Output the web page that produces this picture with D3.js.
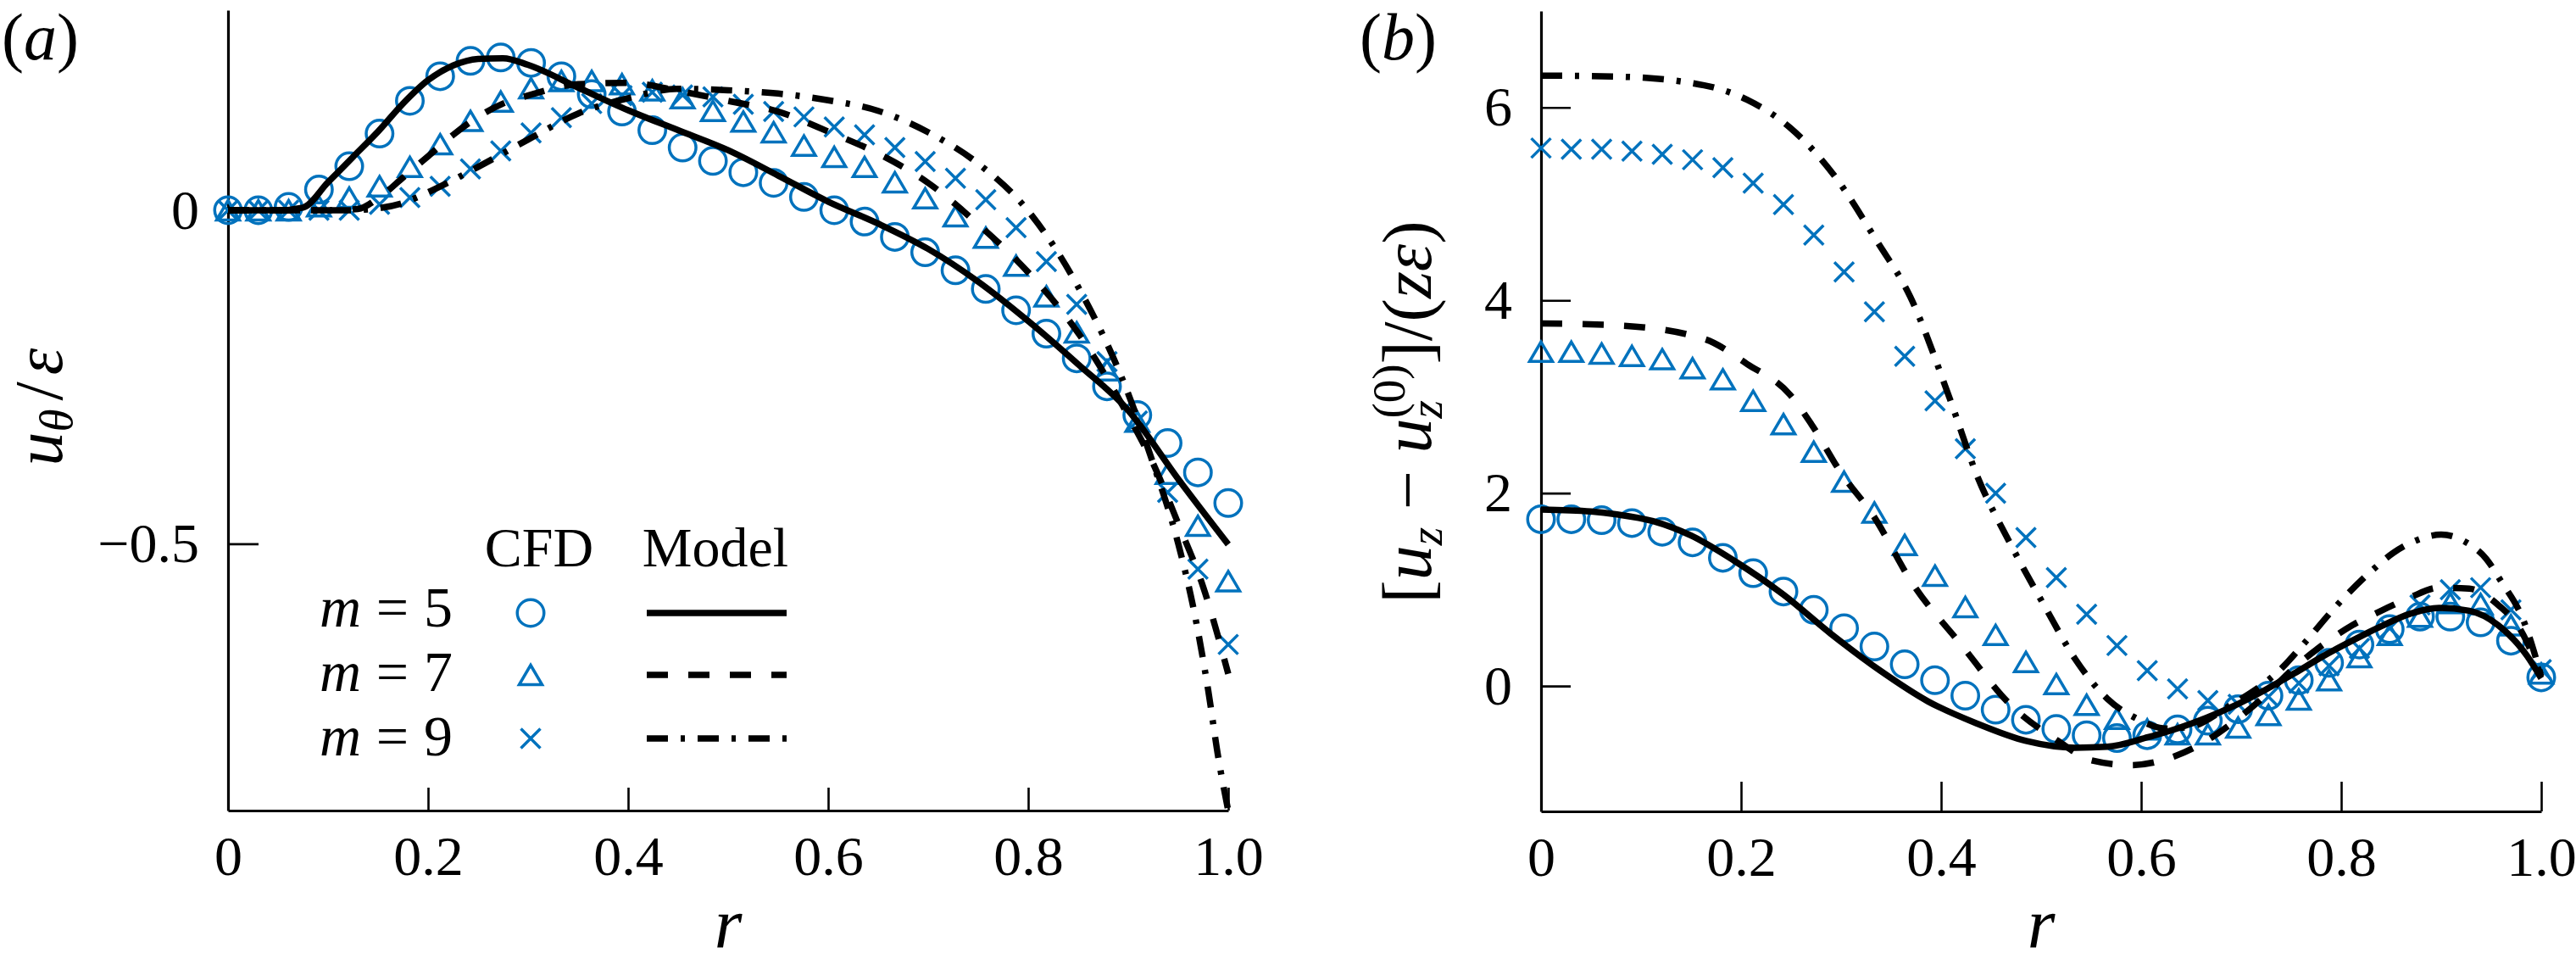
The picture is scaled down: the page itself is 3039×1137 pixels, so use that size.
<!DOCTYPE html>
<html>
<head>
<meta charset="utf-8">
<script src="https://cdn.jsdelivr.net/npm/d3@7"></script>
<style>
html, body { margin: 0; padding: 0; background: #fff; }
svg { display: block; }
text { font-family: "Liberation Serif", "Times New Roman", serif; fill: #000; }
</style>
</head>
<body>
<svg id="chart" width="3039" height="1137"></svg>
<script>
// ---------------- DATA ----------------
const rCFD = [0, 0.0303, 0.0606, 0.0909, 0.1212, 0.1515, 0.1818, 0.2121, 0.2424, 0.2727,
  0.3030, 0.3333, 0.3636, 0.3939, 0.4242, 0.4545, 0.4848, 0.5152, 0.5455, 0.5758,
  0.6061, 0.6364, 0.6667, 0.6970, 0.7273, 0.7576, 0.7879, 0.8182, 0.8485, 0.8788,
  0.9091, 0.9394, 0.9697, 1.0];

// Panel (a): u_theta / epsilon
const cfdA_m5 = [0, 0, 0.005, 0.031, 0.066, 0.115, 0.164, 0.201, 0.224, 0.229, 0.221, 0.201, 0.174, 0.148, 0.120, 0.094, 0.074, 0.057, 0.041, 0.020, 0.000, -0.017, -0.040, -0.063, -0.090, -0.118, -0.150, -0.185, -0.222, -0.264, -0.307, -0.349, -0.393, -0.439];
const cfdA_m7 = [0, 0, 0, 0.006, 0.019, 0.036, 0.065, 0.099, 0.134, 0.163, 0.183, 0.194, 0.194, 0.189, 0.180, 0.168, 0.149, 0.133, 0.117, 0.097, 0.080, 0.065, 0.042, 0.018, -0.009, -0.041, -0.083, -0.129, -0.183, -0.240, -0.317, -0.395, -0.473, -0.556];
const cfdA_m9 = [0, 0, 0, 0, 0, 0.009, 0.019, 0.036, 0.062, 0.089, 0.116, 0.139, 0.160, 0.172, 0.177, 0.173, 0.170, 0.159, 0.148, 0.140, 0.125, 0.113, 0.094, 0.073, 0.048, 0.016, -0.026, -0.077, -0.141, -0.227, -0.316, -0.423, -0.538, -0.651];

const modelA_m5_r = [0, 0.05, 0.075, 0.1, 0.125, 0.15, 0.175, 0.2, 0.225, 0.25, 0.275, 0.3, 0.35, 0.4, 0.45, 0.5, 0.55, 0.6, 0.65, 0.7, 0.75, 0.8, 0.85, 0.9, 0.95, 1.0];
const modelA_m5 = [0, 0.0, 0.004, 0.042, 0.080, 0.118, 0.160, 0.195, 0.217, 0.227, 0.228, 0.218, 0.184, 0.150, 0.120, 0.090, 0.052, 0.013, -0.020, -0.058, -0.107, -0.166, -0.231, -0.300, -0.403, -0.501];
const modelA_m7_r = [0, 0.1, 0.13, 0.15, 0.175, 0.2, 0.225, 0.25, 0.275, 0.3, 0.35, 0.4, 0.45, 0.5, 0.55, 0.6, 0.65, 0.7, 0.75, 0.8, 0.85, 0.9, 0.925, 0.95, 0.975, 1.0];
const modelA_m7 = [0, 0, 0.002, 0.018, 0.049, 0.081, 0.113, 0.140, 0.160, 0.172, 0.189, 0.191, 0.179, 0.164, 0.148, 0.118, 0.085, 0.041, -0.021, -0.093, -0.184, -0.308, -0.380, -0.470, -0.565, -0.695];
const modelA_m9_r = [0, 0.12, 0.15, 0.175, 0.2, 0.25, 0.3, 0.35, 0.4, 0.45, 0.5, 0.55, 0.6, 0.65, 0.7, 0.75, 0.8, 0.85, 0.9, 0.925, 0.95, 0.965, 0.98, 0.99, 1.0];
const modelA_m9 = [0, 0, 0.003, 0.011, 0.027, 0.065, 0.106, 0.145, 0.168, 0.182, 0.180, 0.175, 0.165, 0.149, 0.117, 0.070, -0.001, -0.115, -0.275, -0.380, -0.500, -0.595, -0.720, -0.820, -0.900];

// Panel (b): [u_z - u_z^(0)] / (z epsilon)
const cfdB_m5 = [1.73, 1.73, 1.72, 1.69, 1.60, 1.49, 1.33, 1.17, 0.98, 0.79, 0.60, 0.41, 0.225, 0.06, -0.10, -0.245, -0.35, -0.445, -0.51, -0.54, -0.51, -0.45, -0.36, -0.24, -0.10, 0.06, 0.24, 0.43, 0.59, 0.72, 0.72, 0.66, 0.47, 0.09];
const cfdB_m7 = [3.467, 3.467, 3.448, 3.423, 3.39, 3.296, 3.181, 2.958, 2.716, 2.43, 2.12, 1.80, 1.464, 1.145, 0.82, 0.53, 0.25, 0.02, -0.195, -0.34, -0.45, -0.50, -0.50, -0.43, -0.30, -0.14, 0.06, 0.30, 0.53, 0.72, 0.86, 0.85, 0.63, 0.13];
const cfdB_m9 = [5.579, 5.566, 5.566, 5.547, 5.515, 5.458, 5.375, 5.216, 4.994, 4.676, 4.295, 3.881, 3.42, 2.958, 2.46, 2.0, 1.54, 1.125, 0.744, 0.42, 0.16, -0.03, -0.15, -0.19, -0.11, 0.03, 0.21, 0.39, 0.60, 0.84, 1.00, 1.02, 0.79, 0.17];

const modelB_m5_r = [0, 0.05, 0.076, 0.112, 0.15, 0.193, 0.242, 0.29, 0.339, 0.387, 0.436, 0.485, 0.534, 0.566, 0.607, 0.636, 0.665, 0.694, 0.724, 0.753, 0.782, 0.811, 0.84, 0.869, 0.898, 0.928, 0.957, 0.986, 1.0];
const modelB_m5 = [1.83, 1.81, 1.78, 1.71, 1.56, 1.30, 0.95, 0.54, 0.16, -0.16, -0.39, -0.57, -0.64, -0.63, -0.53, -0.44, -0.33, -0.20, -0.04, 0.13, 0.31, 0.47, 0.62, 0.75, 0.81, 0.78, 0.63, 0.31, 0.08];
const modelB_m7_r = [0, 0.076, 0.163, 0.206, 0.249, 0.27, 0.30, 0.332, 0.371, 0.42, 0.469, 0.517, 0.55, 0.59, 0.633, 0.665, 0.694, 0.724, 0.753, 0.782, 0.811, 0.84, 0.869, 0.898, 0.928, 0.957, 0.98, 1.0];
const modelB_m7 = [3.76, 3.74, 3.60, 3.34, 3.02, 2.72, 2.21, 1.77, 1.07, 0.43, -0.19, -0.57, -0.77, -0.82, -0.73, -0.57, -0.36, -0.10, 0.19, 0.43, 0.63, 0.78, 0.92, 1.02, 1.01, 0.84, 0.57, 0.10];
const modelB_m9_r = [0, 0.076, 0.163, 0.206, 0.249, 0.292, 0.336, 0.369, 0.408, 0.436, 0.469, 0.505, 0.534, 0.566, 0.596, 0.625, 0.65, 0.686, 0.741, 0.764, 0.796, 0.831, 0.852, 0.875, 0.9, 0.925, 0.945, 0.959, 0.983, 1.0];
const modelB_m9 = [6.33, 6.32, 6.23, 6.08, 5.79, 5.31, 4.61, 4.04, 3.00, 2.18, 1.48, 0.80, 0.28, -0.13, -0.34, -0.44, -0.42, -0.22, 0.19, 0.455, 0.84, 1.20, 1.38, 1.51, 1.57, 1.49, 1.32, 1.10, 0.66, 0.10];

// Ticks and labels
const xTicks = [0, 0.2, 0.4, 0.6, 0.8, 1.0];
const xTickLabels = ["0", "0.2", "0.4", "0.6", "0.8", "1.0"];
const yTicksA = [0, -0.5];
const yTickLabelsA = ["0", "\u22120.5"];
const yTicksB = [0, 2, 4, 6];
const yTickLabelsB = ["0", "2", "4", "6"];
const mValues = ["5", "7", "9"];
const legendHeaders = ["CFD", "Model"];
const panelTags = ["a", "b"];

// ---------------- STYLE ----------------
const BLUE = "#0072BD";
const LW = 7.5;
const dashStyles = [null, "25,24", "25,15,5,15"];
const markerKinds = ["circle", "triangle", "cross"];

const svg = d3.select("#chart");

function markerPath(kind) {
  if (kind === "triangle") return "M0,-11.5L13.5,11.5L-13.5,11.5Z";
  if (kind === "cross") return "M-11.5,-11.5L11.5,11.5M-11.5,11.5L11.5,-11.5";
  return null;
}
function drawMarker(g, kind, x, y) {
  if (kind === "circle") {
    g.append("circle").attr("cx", x).attr("cy", y).attr("r", 15.75)
      .attr("fill", "none").attr("stroke", BLUE).attr("stroke-width", 3.5);
  } else {
    g.append("path").attr("d", markerPath(kind))
      .attr("transform", `translate(${x},${y})`)
      .attr("fill", "none").attr("stroke", BLUE).attr("stroke-width", 3.5)
      .attr("stroke-linejoin", "miter");
  }
}

// rotate a vertical label and fit it to a screen span [yTop, yBottom]
function fitVertical(t, baseX, yTop, yBottom, fs0) {
  const len = t.node().getComputedTextLength();
  const target = yBottom - yTop;
  const fs = fs0 * target / len;
  t.attr("font-size", fs);
  t.selectAll("tspan").each(function () {
    const s = d3.select(this);
    const f = s.attr("data-rel");
    if (f) s.attr("font-size", fs * (+f));
    ["dx", "dy"].forEach(k => { const v = s.attr("data-" + k); if (v) s.attr(k, (+v) * fs / fs0); });
  });
  t.attr("text-anchor", "middle").attr("transform", `translate(${baseX},${(yTop + yBottom) / 2}) rotate(-90)`);
}

function drawPanel(cfg) {
  const g = svg.append("g");
  const x = cfg.x, y = cfg.y;
  const [x0, x1] = x.range();
  const [y0, y1] = y.range();

  const xAxis = d3.axisBottom(x).tickValues(xTicks)
    .tickFormat((d, i) => xTickLabels[i])
    .tickSizeInner(-cfg.xTickLen).tickSizeOuter(0).tickPadding(29);
  const gx = g.append("g").attr("transform", `translate(0,${y0})`).call(xAxis);
  const yAxis = d3.axisLeft(y).tickValues(cfg.yTicks)
    .tickFormat((d, i) => cfg.yTickLabels[i])
    .tickSizeInner(-cfg.yTickLen).tickSizeOuter(0).tickPadding(34);
  const gy = g.append("g").attr("transform", `translate(${x0},0)`).call(yAxis);

  [gx, gy].forEach(a => {
    a.select(".domain").attr("stroke", "#000").attr("stroke-width", 3.2);
    a.selectAll(".tick line").attr("stroke", "#000").attr("stroke-width", 2.6);
    a.selectAll(".tick text").attr("font-size", 66)
      .attr("font-family", '"Liberation Serif", "Times New Roman", serif').attr("fill", "#000");
  });

  const mg = g.append("g");
  cfg.cfd.forEach((vals, k) => {
    vals.forEach((v, i) => drawMarker(mg, markerKinds[k], x(rCFD[i]), y(v)));
  });

  const line = d3.line().x(d => x(d[0])).y(d => y(d[1])).curve(d3.curveMonotoneX);
  cfg.model.forEach((m, k) => {
    const pts = m.r.map((rv, i) => [rv, m.v[i]]);
    const p = g.append("path").attr("d", line(pts))
      .attr("fill", "none").attr("stroke", "#000").attr("stroke-width", LW)
      .attr("stroke-linecap", "butt").attr("stroke-linejoin", "round");
    if (dashStyles[k]) p.attr("stroke-dasharray", dashStyles[k]);
  });

  g.append("text").attr("x", (x0 + x1) / 2).attr("y", 1118)
    .attr("text-anchor", "middle").attr("font-size", 84).attr("font-style", "italic").text("r");

  const tag = g.append("text").attr("x", cfg.tagX).attr("y", 70).attr("font-size", 78);
  tag.append("tspan").text("(");
  tag.append("tspan").attr("font-style", "italic").text(cfg.tag);
  tag.append("tspan").text(")");
  return g;
}

// ---------- Panel (a) ----------
const xA = d3.scaleLinear().domain([0, 1]).range([269, 1449]);
const yA = d3.scaleLinear().domain([-0.9, 0.3]).range([956, 12]);
const gA = drawPanel({
  x: xA, y: yA, yTicks: yTicksA, yTickLabels: yTickLabelsA,
  xTickLen: 27, yTickLen: 36, tag: panelTags[0], tagX: 2,
  cfd: [cfdA_m5, cfdA_m7, cfdA_m9],
  model: [{ r: modelA_m5_r, v: modelA_m5 }, { r: modelA_m7_r, v: modelA_m7 }, { r: modelA_m9_r, v: modelA_m9 }]
});

{
  const t = gA.append("text").attr("font-size", 80).attr("text-anchor", "middle")
    .attr("transform", "translate(73,480) rotate(-90)");
  t.append("tspan").attr("font-style", "italic").text("u");
  t.append("tspan").attr("font-style", "italic").attr("font-size", 55).attr("dy", 12).text("\u03B8");
  t.append("tspan").attr("dy", -12).attr("dx", 10).text("/");
  t.append("tspan").attr("dx", 8).attr("font-style", "italic").text("\u03B5");
}

{
  const lg = gA.append("g");
  lg.append("text").attr("x", 636).attr("y", 668).attr("text-anchor", "middle").attr("font-size", 66).text(legendHeaders[0]);
  lg.append("text").attr("x", 844).attr("y", 668).attr("text-anchor", "middle").attr("font-size", 66).text(legendHeaders[1]);
  const rowBase = [739, 815, 891];
  const rowMid = [723, 796, 871];
  mValues.forEach((mv, k) => {
    lg.append("text").attr("x", 377).attr("y", rowBase[k]).attr("font-size", 68).attr("font-style", "italic").text("m");
    lg.append("text").attr("x", 463).attr("y", rowBase[k]).attr("text-anchor", "middle").attr("font-size", 68).text("=");
    lg.append("text").attr("x", 517).attr("y", rowBase[k]).attr("text-anchor", "middle").attr("font-size", 68).text(mv);
    drawMarker(lg, markerKinds[k], 626, rowMid[k]);
    const p = lg.append("line").attr("x1", 763).attr("x2", 928).attr("y1", rowMid[k]).attr("y2", rowMid[k])
      .attr("stroke", "#000").attr("stroke-width", LW);
    if (dashStyles[k]) p.attr("stroke-dasharray", dashStyles[k]);
  });
}

// ---------- Panel (b) ----------
const xB = d3.scaleLinear().domain([0, 1]).range([1818, 2998]);
const yB = d3.scaleLinear().domain([-1.3, 7]).range([957, 13]);
const gB = drawPanel({
  x: xB, y: yB, yTicks: yTicksB, yTickLabels: yTickLabelsB,
  xTickLen: 35, yTickLen: 35, tag: panelTags[1], tagX: 1604,
  cfd: [cfdB_m5, cfdB_m7, cfdB_m9],
  model: [{ r: modelB_m5_r, v: modelB_m5 }, { r: modelB_m7_r, v: modelB_m7 }, { r: modelB_m9_r, v: modelB_m9 }]
});

{
  const t = gB.append("text").attr("font-size", 84);
  t.append("tspan").text("[");
  t.append("tspan").attr("font-style", "italic").text("u");
  t.append("tspan").attr("font-style", "italic").attr("data-rel", 0.67).attr("font-size", 56)
    .attr("data-dy", 13).attr("dy", 13).text("z");
  t.append("tspan").attr("data-dy", -13).attr("dy", -13).text(" \u2212 ");
  t.append("tspan").attr("font-style", "italic").text("u");
  t.append("tspan").attr("font-style", "italic").attr("data-rel", 0.67).attr("font-size", 56)
    .attr("data-dy", 13).attr("dy", 13).text("z");
  t.append("tspan").attr("data-rel", 0.67).attr("font-size", 56)
    .attr("data-dx", -22).attr("dx", -22).attr("data-dy", -45).attr("dy", -45).text("(0)");
  t.append("tspan").attr("data-dy", 32).attr("dy", 32).text("]/(");
  t.append("tspan").attr("font-style", "italic").text("z\u03B5");
  t.append("tspan").text(")");
  fitVertical(t, 1688, 250, 722, 84);
}
</script>
</body>
</html>
